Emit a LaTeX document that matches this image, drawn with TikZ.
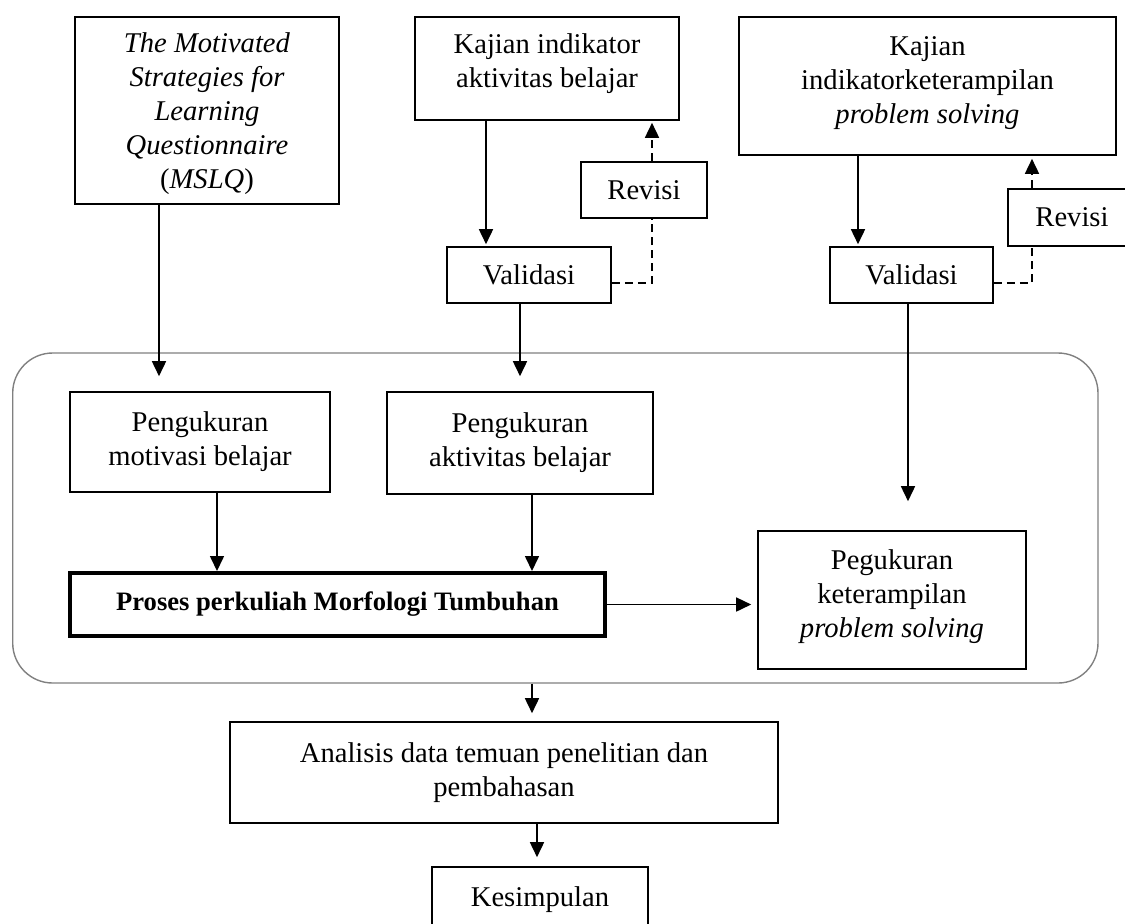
\documentclass[tikz,border=0pt]{standalone}
\usepackage{fontspec}
\setmainfont{Liberation Serif}
\usetikzlibrary{arrows.meta}
\begin{document}
\begin{tikzpicture}[x=0.5pt,y=-0.5pt,
  box/.style={draw=black, line width=0.8pt, align=center, inner sep=2pt,
    font=\fontsize{14.3pt}{17pt}\selectfont},
  thickbox/.style={box, line width=2pt, font=\fontsize{13.3pt}{16pt}\selectfont\bfseries},
  grpbox/.style={draw=black!50, line width=0.7pt, rounded corners=20pt},
  arr/.style={line width=0.8pt, -{Triangle[length=7.5pt,width=7pt]}},
  dashln/.style={line width=0.8pt, dash pattern=on 4pt off 2.5pt},
  dasharr/.style={dashln, -{Triangle[length=7.5pt,width=7pt]}}
]
\useasboundingbox (0,0) rectangle (1125,923);

\node[grpbox, minimum width=542.65pt, minimum height=165pt] (grp) at (555.35,518) {};

\node[box, minimum width=132pt, minimum height=93.5pt, text depth=0pt] (mslq) at (207,110.5)
  {\textit{The Motivated}\\ \textit{Strategies for}\\ \textit{Learning}\\ \textit{Questionnaire}\\ (\textit{MSLQ})};
\node[box, minimum width=132pt, minimum height=51.5pt, text depth=8pt] (kaj1) at (547,68.5)
  {Kajian indikator\\ aktivitas belajar};
\node[box, minimum width=63pt, minimum height=28pt] (rev1) at (644,190) {Revisi};
\node[box, minimum width=82pt, minimum height=28pt] (val1) at (529,275) {Validasi};
\node[box, minimum width=188.5pt, minimum height=69pt, text depth=6pt] (kaj2) at (927.5,86)
  {Kajian\\ indikatorketerampilan\\ \textit{problem solving}};
\node[box, minimum width=64pt, minimum height=28.5pt] (rev2) at (1072,217.5) {Revisi};
\node[box, minimum width=81.5pt, minimum height=28pt] (val2) at (911.5,275) {Validasi};

\node[box, minimum width=130pt, minimum height=50pt] (pm) at (200,442)
  {Pengukuran\\ motivasi belajar};
\node[box, minimum width=133pt, minimum height=51pt] (pa) at (520,443)
  {Pengukuran\\ aktivitas belajar};
\node[thickbox, minimum width=267.5pt, minimum height=31.5pt] (proses) at (337.5,604.5)
  {Proses perkuliah Morfologi Tumbuhan};
\node[box, minimum width=134pt, minimum height=69pt, text depth=6pt] (peg) at (892,600)
  {Pegukuran\\ keterampilan\\ \textit{problem solving}};
\node[box, minimum width=274pt, minimum height=50.5pt] (anal) at (504,772.5)
  {Analisis data temuan penelitian dan\\ pembahasan};
\node[box, minimum width=108pt, minimum height=31pt, text height=12pt] (kes) at (540,898) {Kesimpulan};

% connectors
\draw[arr, shorten >=7.5pt] ([xshift=-24pt]mslq.south) -- ([xshift=-24pt]mslq.south |- pm.north);
\draw[arr, shorten >=1pt] ([xshift=-30.5pt]kaj1.south) -- ([xshift=-30.5pt]kaj1.south |- val1.north);
\draw[arr, shorten >=7.5pt] ([xshift=-4.5pt]val1.south) -- ([xshift=-4.5pt]val1.south |- pa.north);
\draw[dashln] ([yshift=-4pt]val1.east) -| ([xshift=4pt]rev1.south);
\draw[dasharr, shorten >=1pt] ([xshift=4pt]rev1.north) -- ([xshift=4pt]rev1.north |- kaj1.south);
\draw[arr, shorten >=1pt] ([xshift=-34.75pt]kaj2.south) -- ([xshift=-34.75pt]kaj2.south |- val2.north);
\draw[dashln] ([yshift=-4pt]val2.east) -| ([xshift=-20pt]rev2.south);
\draw[dasharr, shorten >=1.5pt] ([xshift=-20pt]rev2.north) -- ([xshift=-20pt]rev2.north |- kaj2.south);
\draw[arr, shorten >=14.5pt] ([xshift=-1.75pt]val2.south) -- ([xshift=-1.75pt]val2.south |- peg.north);
\draw[arr] ([xshift=8.5pt]pm.south) -- ([xshift=8.5pt]pm.south |- proses.north);
\draw[arr] ([xshift=6pt]pa.south) -- ([xshift=6pt]pa.south |- proses.north);
\draw[arr, shorten >=3pt] (proses.east) -- (proses.east -| peg.west);
\draw[arr, shorten >=4pt] ([xshift=-11.675pt]grp.south) -- ([xshift=-11.675pt]grp.south |- anal.north);
\draw[arr, shorten >=4.5pt] ([xshift=16.5pt]anal.south) -- ([xshift=16.5pt]anal.south |- kes.north);
\end{tikzpicture}
\end{document}
